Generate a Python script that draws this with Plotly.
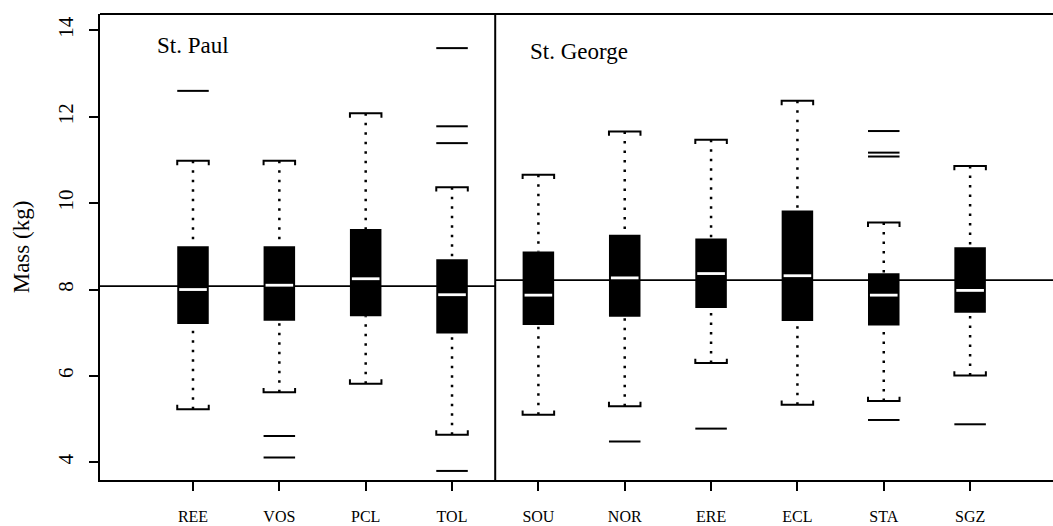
import plotly.graph_objects as go

# ---- data ----
sites = ["REE", "VOS", "PCL", "TOL", "SOU", "NOR", "ERE", "ECL", "STA", "SGZ"]
n_st_paul = 4  # first four sites are St. Paul, rest St. George
island_names = ["St. Paul", "St. George"]
island_means = [8.08, 8.22]

lower_whisker = [5.23, 5.62, 5.82, 4.64, 5.10, 5.30, 6.30, 5.33, 5.42, 6.01]
q1 = [7.20, 7.28, 7.38, 6.98, 7.18, 7.37, 7.57, 7.27, 7.17, 7.46]
median = [8.00, 8.10, 8.25, 7.88, 7.87, 8.27, 8.37, 8.32, 7.87, 7.98]
q3 = [9.00, 9.00, 9.40, 8.70, 8.88, 9.27, 9.18, 9.83, 8.38, 8.98]
upper_whisker = [10.98, 10.98, 12.08, 10.37, 10.66, 11.66, 11.47, 12.37, 9.55, 10.86]
outliers = [
    [12.60],
    [4.61, 4.11],
    [],
    [13.59, 11.78, 11.39, 3.80],
    [],
    [4.48],
    [4.78],
    [],
    [11.67, 11.17, 11.08, 4.98],
    [4.88],
]

y_ticks = [4, 6, 8, 10, 12, 14]

# ---- style ----
FONT = "Liberation Serif, Times New Roman, serif"
box_w = 0.365
med_w = 0.32
cap_tick = 0.1
x_range = [-0.077, 10.96]
y_range = [3.59, 14.38]

pos = [i + 1 for i in range(len(sites))]
divider = n_st_paul + 0.5

fig = go.Figure()

# boxes
fig.add_trace(go.Bar(
    x=pos, base=q1, y=[b - a for a, b in zip(q1, q3)], width=box_w,
    marker=dict(color="black", line=dict(width=0)), hoverinfo="skip",
))

# whiskers (dotted), drawn from cap toward box
wx, wy = [], []
for p, lo, a, b, hi in zip(pos, lower_whisker, q1, q3, upper_whisker):
    wx += [p, p, None, p, p, None]
    wy += [hi, b, None, lo, a, None]
fig.add_trace(go.Scatter(x=wx, y=wy, mode="lines",
                         line=dict(color="black", width=2.5, dash="2.5px,7px"),
                         hoverinfo="skip"))

# caps (bracket style)
cx, cy = [], []
h = box_w / 2
for p, lo, hi in zip(pos, lower_whisker, upper_whisker):
    cx += [p - h, p - h, p + h, p + h, None]
    cy += [hi - cap_tick, hi, hi, hi - cap_tick, None]
    cx += [p - h, p - h, p + h, p + h, None]
    cy += [lo + cap_tick, lo, lo, lo + cap_tick, None]
fig.add_trace(go.Scatter(x=cx, y=cy, mode="lines",
                         line=dict(color="black", width=2), hoverinfo="skip"))

# outliers as short horizontal dashes
ox, oy = [], []
for p, outs in zip(pos, outliers):
    for v in outs:
        ox += [p - h, p + h, None]
        oy += [v, v, None]
fig.add_trace(go.Scatter(x=ox, y=oy, mode="lines",
                         line=dict(color="black", width=2), hoverinfo="skip"))

# medians (white)
mx, my = [], []
for p, m in zip(pos, median):
    mx += [p - med_w / 2, p + med_w / 2, None]
    my += [m, m, None]
fig.add_trace(go.Scatter(x=mx, y=my, mode="lines",
                         line=dict(color="white", width=2.8), hoverinfo="skip"))

# island mean reference lines, divider and top frame line
shapes = [
    dict(type="line", xref="x", yref="y", x0=x_range[0], x1=divider,
         y0=island_means[0], y1=island_means[0],
         line=dict(color="black", width=1.7), layer="below"),
    dict(type="line", xref="x", yref="y", x0=divider, x1=x_range[1],
         y0=island_means[1], y1=island_means[1],
         line=dict(color="black", width=1.7), layer="below"),
    dict(type="line", xref="x", yref="y domain", x0=divider, x1=divider,
         y0=0, y1=1, line=dict(color="black", width=2)),
    dict(type="line", xref="x domain", yref="y domain", x0=0, x1=1,
         y0=1, y1=1, line=dict(color="black", width=2)),
]

annotations = [
    dict(text=island_names[0], xref="paper", yref="paper", x=0.0575, y=0.933,
         xanchor="left", yanchor="middle", showarrow=False,
         font=dict(family=FONT, size=23, color="black")),
    dict(text=island_names[1], xref="paper", yref="paper", x=0.449, y=0.920,
         xanchor="left", yanchor="middle", showarrow=False,
         font=dict(family=FONT, size=23, color="black")),
]

fig.update_layout(
    width=1053, height=526,
    margin=dict(l=100, r=0, t=14, b=46),
    paper_bgcolor="white", plot_bgcolor="white",
    showlegend=False, barmode="overlay",
    font=dict(family=FONT, color="black"),
    shapes=shapes, annotations=annotations,
    xaxis=dict(
        range=x_range, tickvals=pos, ticktext=sites,
        ticks="outside", ticklen=9, tickwidth=2, tickcolor="black",
        showline=True, linewidth=2, linecolor="black", mirror=False,
        showgrid=False, zeroline=False,
        tickfont=dict(family=FONT, size=16, color="black"),
        ticklabelstandoff=12,
    ),
    yaxis=dict(
        range=y_range, tickvals=y_ticks, ticktext=[str(t) for t in y_ticks],
        ticks="outside", ticklen=9, tickwidth=2, tickcolor="black",
        showline=True, linewidth=2, linecolor="black", mirror=False,
        showgrid=False, zeroline=False, tickangle=-90,
        tickfont=dict(family=FONT, size=21, color="black"),
        ticklabelstandoff=8,
        title=dict(text="Mass (kg)", font=dict(family=FONT, size=23, color="black"),
                   standoff=18),
    ),
)

fig.write_html("out.html")
